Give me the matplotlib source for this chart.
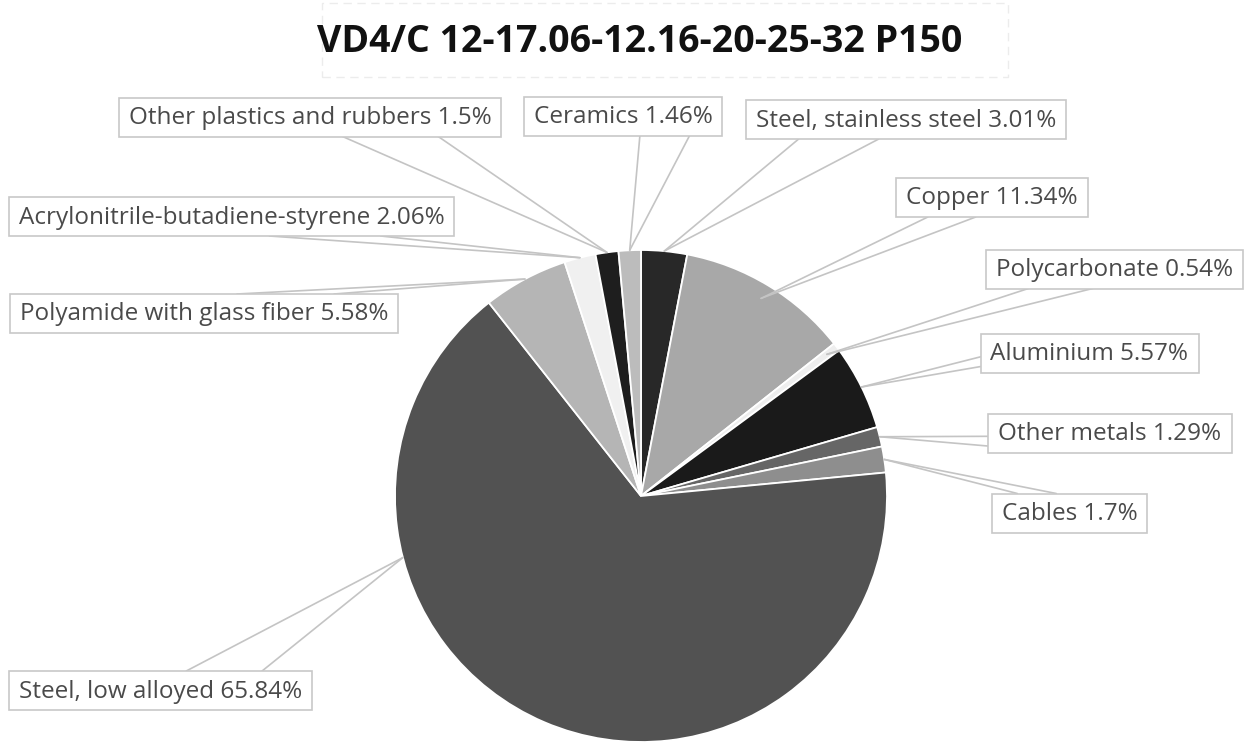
import matplotlib
matplotlib.use("Agg")
import matplotlib.pyplot as plt
from matplotlib.patches import Rectangle
import numpy as np

# ---- data ----
title = "VD4/C 12-17.06-12.16-20-25-32 P150"
materials = ["Steel, stainless steel", "Copper", "Polycarbonate", "Aluminium",
             "Other metals", "Cables", "Steel, low alloyed",
             "Polyamide with glass fiber", "Acrylonitrile-butadiene-styrene",
             "Other plastics and rubbers", "Ceramics"]
shares = [3.01, 11.34, 0.54, 5.57, 1.29, 1.7, 65.84, 5.58, 2.06, 1.5, 1.46]
share_text = ["3.01", "11.34", "0.54", "5.57", "1.29", "1.7", "65.84", "5.58", "2.06", "1.5", "1.46"]
colors = ["#282828", "#a8a8a8", "#eeeeee", "#1a1a1a", "#666666", "#8e8e8e",
          "#525252", "#b5b5b5", "#f0f0f0", "#1e1e1e", "#bcbcbc"]

# ---- layout (pixel coordinates, y downward) ----
W, H = 1246, 749
center_px = (641, 496)
radius = 246
label_centers = [(906, 119.5), (992, 197.5), (1114.5, 269), (1089.5, 353.5),
                 (1110, 433), (1069.5, 513), (160.5, 690.5),
                 (204, 313.5), (231.5, 216.5), (310, 117), (623, 116)]
attach_edge = ["bottom", "bottom", "bottom", "left", "left", "top", "top",
               "top", "bottom", "bottom", "bottom"]
box_side = ["right", "right", "right", "right", "right", "right", "left",
            "left", "left", "left", "left"]
apex_r = [1.0, 0.94, 0.95, 1.0, 1.0, 1.0, 1.0, 1.0, 1.0, 1.0, 1.0]
apex_override = {6: 194.5}
pad_x, box_h = 10, 39

fig = plt.figure(figsize=(W / 100, H / 100), dpi=100)
ax = fig.add_axes([0, 0, 1, 1])
ax.set_xlim(0, W)
ax.set_ylim(0, H)
ax.set_aspect("equal")
ax.axis("off")

cx, cy = center_px[0], H - center_px[1]
wedges, _ = ax.pie(shares, colors=colors, startangle=90, counterclock=False,
                   center=(cx, cy), radius=radius, frame=True,
                   wedgeprops=dict(edgecolor="white", linewidth=1.3))
ax.set_xlim(0, W)
ax.set_ylim(0, H)
ax.axis("off")

# title
ax.text(640, H - 42, title, ha="center", va="center", fontsize=27,
        fontweight="bold", family="Open Sans", color="#111111")
ax.add_patch(Rectangle((322, H - 77), 686, 74, fill=False, ec="#ececec",
                       lw=1, ls=(0, (6, 4))))

# labels
texts = []
for i, (name, st) in enumerate(zip(materials, share_text)):
    x, y = label_centers[i]
    t = ax.text(x, H - y - 1, f"{name} {st}%", ha="center", va="center",
                fontsize=17.5, family="Open Sans", color="#4a4a4a", zorder=6)
    texts.append(t)

fig.canvas.draw()
renderer = fig.canvas.get_renderer()
inv = ax.transData.inverted()

total = sum(shares)
cum = np.cumsum([0] + shares[:-1])
for i, t in enumerate(texts):
    bb = t.get_window_extent(renderer)
    (tx0, _), (tx1, _) = inv.transform([[bb.x0, bb.y0], [bb.x1, bb.y1]])
    x, y = label_centers[i]
    yc = H - y
    x0, x1 = tx0 - pad_x, tx1 + pad_x
    y0, y1 = yc - box_h / 2, yc + box_h / 2
    ax.add_patch(Rectangle((x0, y0), x1 - x0, y1 - y0, fc="white",
                           ec="#c8c8c8", lw=1.2, zorder=5))
    if box_side[i] == "right":
        fr = (0.165, 0.415)
    else:
        fr = (0.585, 0.835)
    e = attach_edge[i]
    if e == "bottom":
        pts = [(x0 + f * (x1 - x0), y0) for f in fr]
    elif e == "top":
        pts = [(x0 + f * (x1 - x0), y1) for f in fr]
    else:
        pts = [(x0, y1 - f * (y1 - y0)) for f in (0.585, 0.835)]
    mid = 90 - 360 * (cum[i] + shares[i] / 2) / total
    ang = np.deg2rad(apex_override.get(i, mid))
    ax_ = cx + apex_r[i] * radius * np.cos(ang)
    ay_ = cy + apex_r[i] * radius * np.sin(ang)
    for px, py in pts:
        ax.plot([px, ax_], [py, ay_], color="#c4c4c4", lw=1.2, zorder=4,
                solid_capstyle="round")

fig.savefig("out.png", dpi=100, facecolor="white")
